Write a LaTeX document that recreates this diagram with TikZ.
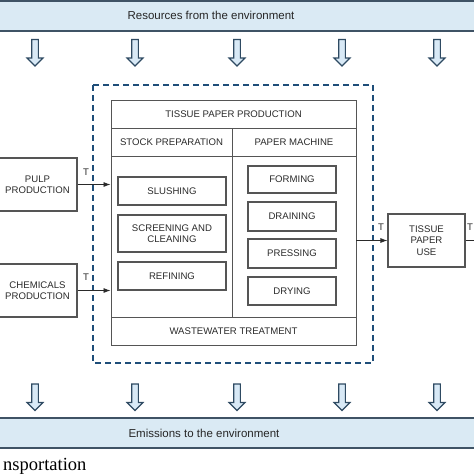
\documentclass[tikz,border=0pt]{standalone}
\usepackage{fontspec}
\setmainfont{Liberation Sans}
\newfontfamily\serifont{Liberation Serif}
\usetikzlibrary{arrows.meta}
\definecolor{bandfill}{HTML}{DAEAF4}
\definecolor{bandline}{HTML}{3F5365}
\definecolor{arrline}{HTML}{2E4A62}
\definecolor{arrfill}{HTML}{D8E9F6}
\definecolor{dashblue}{HTML}{1F4E79}
\definecolor{boxline}{HTML}{555555}
\definecolor{txt}{HTML}{2A2A2A}
\tikzset{
  envtext/.style={font=\fontsize{11.5}{13}\selectfont, text=black!85, inner sep=0pt},
  bandrule/.style={draw=bandline, line width=2pt},
  envarrow/.style={draw=arrline, fill=arrfill, line width=1.1pt, line join=miter},
  cell/.style={draw=boxline, line width=0.9pt, inner sep=0pt, text=txt,
    font=\fontsize{9.6}{11.5}\selectfont, align=center},
  subbox/.style={cell, line width=1.1pt},
  flow/.style={draw=txt, line width=0.8pt, -{Latex[length=7pt,width=5pt]}},
  tlabel/.style={font=\fontsize{9.6}{11}\selectfont, text=txt, inner sep=0pt},
}
\begin{document}
\begin{tikzpicture}[x=1pt,y=-1pt]
\useasboundingbox (0,0) rectangle (474,474);
% top band
\fill[bandfill] (-2,1) rectangle (476,31);
\draw[bandrule] (-2,1) -- (476,1);
\draw[bandrule] (-2,31) -- (476,31);
\node[envtext] (res) at (211,15) {Resources from the environment};
% bottom band
\fill[bandfill] (-2,418) rectangle (476,448);
\draw[bandrule] (-2,418) -- (476,418);
\draw[bandrule] (-2,448) -- (476,448);
\node[envtext] (emi) at (204,433) {Emissions to the environment};
% env arrows (hollow block arrows)
\foreach \x in {35,135,237,342,437}{
  \foreach \t in {39.5,384}{
    \filldraw[envarrow] (\x-3.3,\t) -- (\x+3.3,\t) -- (\x+3.3,\t+18.5) -- (\x+8,\t+18.5)
      -- (\x,\t+26.5) -- (\x-8,\t+18.5) -- (\x-3.3,\t+18.5) -- cycle;
  }
}
% dashed system boundary
\draw[dashblue, line width=2.6pt, dash pattern=on 6pt off 4pt] (93,85) rectangle (373,363);
% inner production box
\node[cell, minimum width=245pt, minimum height=28pt] (tpp) at (233.5,114) {TISSUE PAPER PRODUCTION};
\node[cell, minimum width=121pt, minimum height=28pt] (sp) at (171.5,142) {STOCK PREPARATION};
\node[cell, minimum width=124pt, minimum height=28pt] (pm) at (294,142) {PAPER MACHINE};
\node[cell, minimum width=121pt, minimum height=161pt] (lcol) at (171.5,236.5) {};
\node[cell, minimum width=124pt, minimum height=161pt] (rcol) at (294,236.5) {};
\node[cell, minimum width=245pt, minimum height=28pt] (ww) at (233.5,331) {WASTEWATER TREATMENT};
% stock preparation steps
\node[subbox, minimum width=108pt, minimum height=28pt] (slu) at (172,191) {SLUSHING};
\node[subbox, minimum width=108pt, minimum height=37pt] (scr) at (172,233.5) {SCREENING AND\\CLEANING};
\node[subbox, minimum width=108pt, minimum height=28pt] (ref) at (172,276) {REFINING};
% paper machine steps
\node[subbox, minimum width=88pt, minimum height=27pt] (for) at (292,179.5) {FORMING};
\node[subbox, minimum width=88pt, minimum height=29pt] (dra) at (292,216.5) {DRAINING};
\node[subbox, minimum width=88pt, minimum height=29pt] (pre) at (292,253.5) {PRESSING};
\node[subbox, minimum width=88pt, minimum height=28pt] (dry) at (292,291) {DRYING};
% outside boxes
\node[cell, line width=1.1pt, minimum width=79pt, minimum height=53pt] (pulp) at (37.5,184.5) {PULP\\PRODUCTION};
\node[cell, line width=1.1pt, minimum width=79pt, minimum height=53pt] (chem) at (37.5,290.5) {CHEMICALS\\PRODUCTION};
\node[cell, line width=1.1pt, minimum width=77pt, minimum height=53pt] (tpu) at (426.5,240.5) {TISSUE\\PAPER\\USE};
\coordinate (out) at (484,240.5);
% flows
\draw[flow] (pulp.east) -- (pulp.east -| lcol.west);
\draw[flow] (chem.east) -- (chem.east -| lcol.west);
\draw[flow] (tpu.west -| rcol.east) -- (tpu.west);
\draw[flow] (tpu.east) -- (out);
\node[tlabel] (t1) at (86,172) {T};
\node[tlabel] (t2) at (86,277) {T};
\node[tlabel] (t3) at (381,227) {T};
\node[tlabel] (t4) at (470,227) {T};
% caption fragment
\node[anchor=base west, inner sep=0pt, font=\serifont\fontsize{18.5}{21}\selectfont] (cap) at (3,470.5) {nsportation};
\end{tikzpicture}
\end{document}
